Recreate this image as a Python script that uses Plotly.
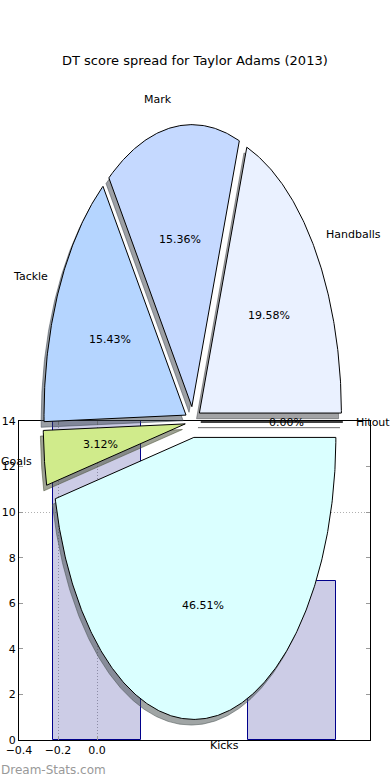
import numpy as np
import plotly.graph_objects as go

# ---------------- data ----------------
title = "DT score spread for Taylor Adams (2013)"
categories = ["Handballs", "Mark", "Tackle", "Goals", "Kicks", "Hitout"]
shares = [19.58, 15.36, 15.43, 3.12, 46.51, 0.00]
slice_colors = ["#EAF1FF", "#C5D9FF", "#B5D5FF", "#D0EB8B", "#DAFFFF", "#FFFFFF"]

bar_x = [0, 1]
bar_heights = [15, 7]

x_tickvals = [-0.4, -0.2, 0.0]
x_ticktext = ["\u22120.4", "\u22120.2", "0.0"]
y_tickvals = [0, 2, 4, 6, 8, 10, 12, 14]
y_gridvals = [10]

# ---------------- layout constants ----------------
W, H = 390, 780
FONT = "DejaVu Sans"
EXPLODE = 0.055
SHADOW_DX, SHADOW_DY = -0.02, -0.02
LABEL_DIST, PCT_DIST = 1.1, 0.6
# pie placement in pixels (ellipse: stretched vertically)
CX, CY, RX, RY = 193, 422, 142, 282
GRID_DASH = "1px,2px"

fig = go.Figure()

fig.add_trace(go.Bar(
    x=bar_x, y=bar_heights, width=0.45,
    marker=dict(color="rgba(0,0,128,0.2)", line=dict(color="#00008B", width=1)),
    xaxis="x", yaxis="y", hoverinfo="skip", showlegend=False,
))

# ---------------- pie wedges ----------------
total = sum(shares)
theta = 0.0
wedges = []
for name, share, col in zip(categories, shares, slice_colors):
    t1 = theta
    t2 = theta + 360.0 * share / total
    theta = t2
    tm = np.radians((t1 + t2) / 2)
    ox, oy = EXPLODE * np.cos(tm), EXPLODE * np.sin(tm)
    n = max(2, int(abs(t2 - t1) * 2) + 2)
    ang = np.radians(np.linspace(t1, t2, n))
    xs = np.concatenate([[ox], ox + np.cos(ang), [ox]])
    ys = np.concatenate([[oy], oy + np.sin(ang), [oy]])
    wedges.append((name, share, col, tm, ox, oy, xs, ys))


def shade(hexcol):
    h = hexcol.lstrip("#")
    r, g, b = (int(h[i:i + 2], 16) for i in (0, 2, 4))
    return "rgba(%d,%d,%d,0.5)" % (0.3 * r, 0.3 * g, 0.3 * b)


for name, share, col, tm, ox, oy, xs, ys in wedges:
    fig.add_trace(go.Scatter(
        x=xs + SHADOW_DX, y=ys + SHADOW_DY, mode="lines", fill="toself",
        fillcolor=shade(col), line=dict(color=shade(col), width=1),
        xaxis="x2", yaxis="y2", hoverinfo="skip", showlegend=False,
    ))

for name, share, col, tm, ox, oy, xs, ys in wedges:
    fig.add_trace(go.Scatter(
        x=xs, y=ys, mode="lines", fill="toself",
        fillcolor=col, line=dict(color="#000000", width=1),
        xaxis="x2", yaxis="y2", hoverinfo="skip", showlegend=False,
    ))

annotations = []
for name, share, col, tm, ox, oy, xs, ys in wedges:
    lx = ox + LABEL_DIST * np.cos(tm)
    ly = oy + LABEL_DIST * np.sin(tm)
    right_side = lx > 0
    annotations.append(dict(
        x=lx, y=ly, xref="x2", yref="y2", text=name, showarrow=False,
        xanchor="left" if right_side else "right", yanchor="middle",
        xshift=-2 if right_side else 3,
        font=dict(family=FONT, size=11, color="#000000"), borderpad=0,
    ))
    px_ = ox + PCT_DIST * np.cos(tm)
    py_ = oy + PCT_DIST * np.sin(tm)
    annotations.append(dict(
        x=px_, y=py_, xref="x2", yref="y2", text="%.2f%%" % share, showarrow=False,
        xanchor="center", yanchor="middle",
        font=dict(family=FONT, size=11, color="#000000"), borderpad=0,
    ))

annotations.append(dict(
    x=0.5, y=1 - 61 / H, xref="paper", yref="paper", text=title, showarrow=False,
    xanchor="center", yanchor="middle", font=dict(family=FONT, size=13, color="#000000"),
))
annotations.append(dict(
    x=0, y=1 - 770 / H, xref="paper", yref="paper", text="Dream-Stats.com", showarrow=False,
    xanchor="left", yanchor="middle", font=dict(family=FONT, size=12, color="#999999"),
    borderpad=0,
))

fig.update_layout(
    template="none",
    width=W, height=H,
    margin=dict(l=0, r=0, t=0, b=0, pad=0, autoexpand=False),
    paper_bgcolor="white", plot_bgcolor="rgba(0,0,0,0)",
    showlegend=False,
    bargap=0,
    annotations=annotations,
    xaxis=dict(
        domain=[19 / W, 370 / W], range=[-0.4, 1.4], anchor="y", automargin=False,
        tickvals=x_tickvals, ticktext=x_ticktext,
        showgrid=True, gridcolor="#b0b0b0", griddash=GRID_DASH, gridwidth=1,
        zeroline=False, showline=True, linecolor="#000000", linewidth=1, mirror="ticks",
        ticks="inside", ticklen=4, tickcolor="#999999",
        tickfont=dict(family=FONT, size=11, color="#000000"),
    ),
    yaxis=dict(
        domain=[40 / H, 359 / H], range=[0, 14], anchor="x", automargin=False,
        tickvals=y_tickvals, showgrid=False,
        minor=dict(tickvals=y_gridvals, showgrid=True, gridcolor="#b0b0b0",
                   griddash=GRID_DASH, gridwidth=1, ticklen=0),
        zeroline=False, showline=True, linecolor="#000000", linewidth=1, mirror="ticks",
        ticks="inside", ticklen=4, tickcolor="#999999",
        tickfont=dict(family=FONT, size=11, color="#000000"),
    ),
    xaxis2=dict(
        domain=[0, 1], anchor="y2", range=[-CX / RX, (W - CX) / RX],
        visible=False, fixedrange=True, automargin=False,
    ),
    yaxis2=dict(
        domain=[0, 1], anchor="x2", range=[-(H - CY) / RY, CY / RY],
        visible=False, fixedrange=True, automargin=False,
    ),
)

fig.write_html(
    "out.html",
    config={"displayModeBar": False},
    post_script="document.body.style.margin='0';document.body.style.padding='0';",
)
